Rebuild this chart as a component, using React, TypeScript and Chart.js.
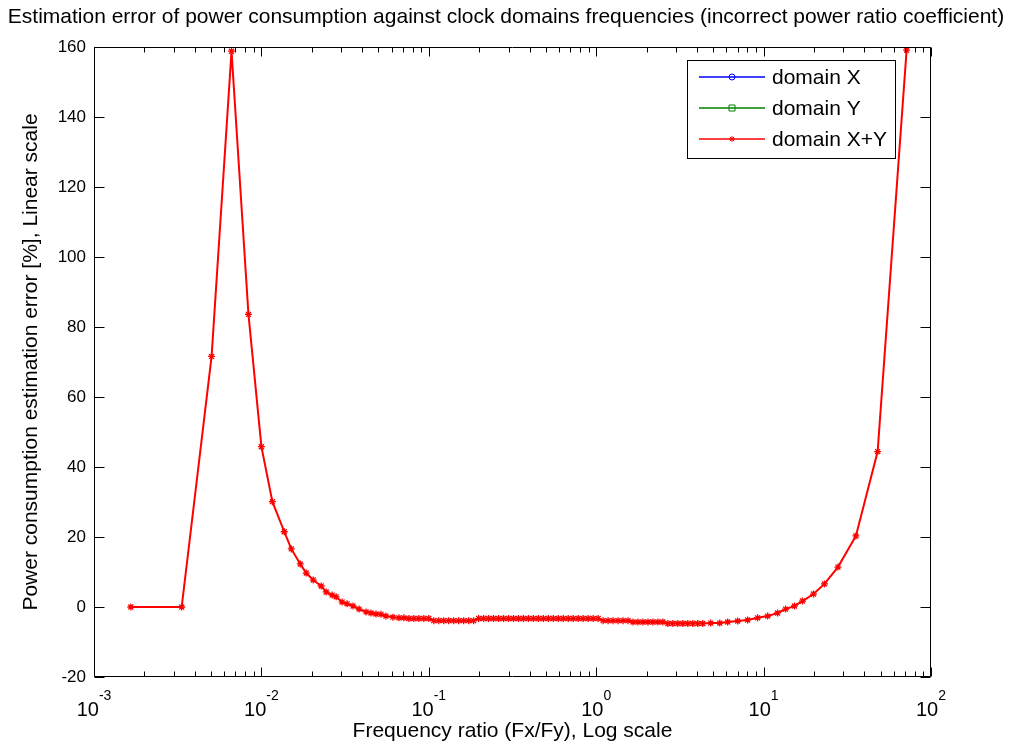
import { useEffect, useRef } from 'react';
import { Chart, registerables } from 'chart.js';

Chart.register(...registerables);

const chartTitle =
  'Estimation error of power consumption against clock domains frequencies (incorrect power ratio coefficient)';
const xAxisLabel = 'Frequency ratio (Fx/Fy), Log scale';
const yAxisLabel = 'Power consumption estimation error [%], Linear scale';
const seriesLabels = ['domain X', 'domain Y', 'domain X+Y'];
const seriesColors = ['#0000ff', '#008000', '#ff0000'];
const yTickValues = [-20, 0, 20, 40, 60, 80, 100, 120, 140, 160];
const xDecades = [-3, -2, -1, 0, 1, 2];

// domain X and domain Y are fully hidden behind domain X+Y in the reference
const ratioX: number[] = [];
const errorX: number[] = [];
const ratioY: number[] = [];
const errorY: number[] = [];

const ratioXY = [
  0.00166, 0.00334, 0.00504, 0.00663, 0.00837, 0.01, 0.01163, 0.0137, 0.01509, 0.01707,
  0.01853, 0.0204, 0.02276, 0.02437, 0.02646, 0.02796, 0.03034, 0.0325, 0.03527, 0.03832,
  0.04217, 0.04516, 0.04836, 0.0518, 0.05546, 0.06105,
  0.0663, 0.071, 0.07603, 0.08142, 0.0872, 0.09337, 0.1,
  0.1071, 0.1147, 0.1228, 0.1315, 0.1408, 0.1508, 0.1615, 0.173, 0.1853,
  0.1984, 0.2125, 0.2276, 0.2437, 0.261, 0.2795, 0.2993, 0.3205, 0.3432, 0.3676, 0.3936,
  0.4215, 0.4514, 0.4834, 0.5177, 0.5544, 0.5937, 0.6358, 0.6809, 0.7292, 0.7809, 0.8362,
  0.8955, 0.959, 1.027,
  1.1, 1.178, 1.261, 1.351, 1.447, 1.549,
  1.659, 1.777, 1.903, 2.038, 2.182, 2.337, 2.503,
  2.68, 2.87, 3.074, 3.292, 3.525, 3.775, 4.043, 4.33,
  4.83, 5.47, 6.1, 7.0, 8.03, 9.21, 10.57, 12.12, 13.53, 15.3, 17.07, 19.86, 23.1, 27.8,
  35.6, 48.0, 71.5,
];

const errorXY = [
  0, 0, 71.6, 158.8, 83.6, 45.8, 30.1, 21.5, 16.6, 12.3,
  9.7, 7.7, 6.0, 4.3, 3.4, 2.9, 1.4, 0.9, 0.3, -0.6,
  -1.4, -1.7, -2.0, -2.1, -2.6, -2.9,
  -3.1, -3.1, -3.3, -3.3, -3.3, -3.3, -3.3,
  -3.9, -3.9, -3.9, -3.9, -3.9, -3.9, -3.9, -3.9, -3.9,
  -3.3, -3.3, -3.3, -3.3, -3.3, -3.3, -3.3, -3.3, -3.3, -3.3, -3.3,
  -3.3, -3.3, -3.3, -3.3, -3.3, -3.3, -3.3, -3.3, -3.3, -3.3, -3.3,
  -3.3, -3.3, -3.3,
  -3.9, -3.9, -3.9, -3.9, -3.9, -3.9,
  -4.3, -4.3, -4.3, -4.3, -4.3, -4.3, -4.3,
  -4.7, -4.7, -4.7, -4.7, -4.7, -4.7, -4.7, -4.7,
  -4.6, -4.6, -4.3, -4.0, -3.7, -3.1, -2.6, -1.7, -0.6, 0.3, 1.7, 3.7, 6.6, 11.4,
  20.3, 44.4, 159.1,
];

const FONT = '"Liberation Sans", Arial, sans-serif';

function toPoints(xs: number[], ys: number[]) {
  return xs.map((x, i) => ({ x, y: ys[i] }));
}

function drawMarker(ctx: CanvasRenderingContext2D, style: string, x: number, y: number, r: number) {
  ctx.beginPath();
  if (style === 'circle') {
    ctx.arc(x, y, r, 0, Math.PI * 2);
  } else if (style === 'rect') {
    ctx.rect(x - r, y - r, 2 * r, 2 * r);
  } else {
    ctx.moveTo(x - r, y);
    ctx.lineTo(x + r, y);
    ctx.moveTo(x, y - r);
    ctx.lineTo(x, y + r);
    const d = r * 0.7;
    ctx.moveTo(x - d, y - d);
    ctx.lineTo(x + d, y + d);
    ctx.moveTo(x - d, y + d);
    ctx.lineTo(x + d, y - d);
  }
  ctx.stroke();
}

const framePlugin = {
  id: 'matlabFrame',
  afterDraw(chart: any) {
    const { ctx, chartArea: a, scales, width } = chart;
    const xs = scales.x;
    const ys = scales.y;
    ctx.save();

    // title
    ctx.fillStyle = '#000';
    ctx.font = `21px ${FONT}`;
    ctx.textAlign = 'center';
    ctx.textBaseline = 'middle';
    ctx.fillText(chartTitle, width / 2, 17, 1002);

    ctx.strokeStyle = '#000';
    ctx.lineWidth = 1;
    const L = Math.round(a.left) + 0.5;
    const R = Math.round(a.right) - 0.5;
    const T = Math.round(a.top) + 0.5;
    const B = Math.round(a.bottom) - 0.5;
    ctx.beginPath();
    ctx.rect(L, T, R - L, B - T);
    ctx.stroke();

    // y ticks (inward, both sides)
    ctx.beginPath();
    for (const v of yTickValues) {
      const py = Math.round(ys.getPixelForValue(v)) + 0.5;
      ctx.moveTo(L, py);
      ctx.lineTo(L + 10, py);
      ctx.moveTo(R, py);
      ctx.lineTo(R - 10, py);
    }
    // x ticks major + minor (inward, top and bottom)
    for (const k of xDecades) {
      const maxM = k === xDecades[xDecades.length - 1] ? 1 : 9;
      for (let m = 1; m <= maxM; m++) {
        const px = Math.round(xs.getPixelForValue(m * Math.pow(10, k))) + 0.5;
        const len = m === 1 ? 9 : 5;
        ctx.moveTo(px, B);
        ctx.lineTo(px, B - len);
        ctx.moveTo(px, T);
        ctx.lineTo(px, T + len);
      }
    }
    ctx.stroke();

    // x tick labels with superscript exponents
    ctx.fillStyle = '#000';
    ctx.textBaseline = 'alphabetic';
    ctx.textAlign = 'left';
    for (const k of xDecades) {
      const px = xs.getPixelForValue(Math.pow(10, k));
      ctx.font = `20px ${FONT}`;
      const base = '10';
      const wb = ctx.measureText(base).width;
      ctx.font = `14px ${FONT}`;
      const exp = String(k);
      const we = ctx.measureText(exp).width;
      const x0 = px - (wb + we) / 2;
      ctx.font = `20px ${FONT}`;
      ctx.fillText(base, x0, 716);
      ctx.font = `14px ${FONT}`;
      ctx.fillText(exp, x0 + wb, 700);
    }

    // legend box
    const bw = 208;
    const bh = 98;
    const bx = a.right - 36 - bw;
    const by = a.top + 13;
    ctx.fillStyle = '#fff';
    ctx.fillRect(bx, by, bw, bh);
    ctx.strokeStyle = '#000';
    ctx.strokeRect(Math.round(bx) + 0.5, Math.round(by) + 0.5, bw, bh);
    const styles = ['circle', 'rect', 'star'];
    chart.data.datasets.forEach((ds: any, i: number) => {
      const ly = by + 17 + i * 31;
      ctx.strokeStyle = ds.borderColor;
      ctx.lineWidth = 1.5;
      ctx.beginPath();
      ctx.moveTo(bx + 12, ly);
      ctx.lineTo(bx + 78, ly);
      ctx.stroke();
      ctx.lineWidth = 1;
      drawMarker(ctx, styles[i], bx + 45, ly, 3);
      ctx.fillStyle = '#000';
      ctx.font = `21px ${FONT}`;
      ctx.textAlign = 'left';
      ctx.textBaseline = 'middle';
      ctx.fillText(ds.label, bx + 85, ly + 1);
    });
    ctx.restore();
  },
};

export default function App() {
  const ref = useRef<HTMLCanvasElement | null>(null);
  useEffect(() => {
    if (!ref.current) return;
    const mk = (i: number, xs: number[], ys: number[], pointStyle: string) => ({
      label: seriesLabels[i],
      data: toPoints(xs, ys),
      borderColor: seriesColors[i],
      backgroundColor: seriesColors[i],
      borderWidth: 2,
      pointStyle,
      pointRadius: 3.5,
      pointBorderWidth: 1.3,
      pointBackgroundColor: 'transparent',
      pointBorderColor: seriesColors[i],
      tension: 0,
      fill: false,
    });
    const chart = new Chart(ref.current, {
      type: 'line',
      data: {
        datasets: [
          mk(0, ratioX, errorX, 'circle'),
          mk(1, ratioY, errorY, 'rect'),
          mk(2, ratioXY, errorXY, 'star'),
        ],
      },
      options: {
        animation: false,
        responsive: true,
        maintainAspectRatio: false,
        layout: { padding: { left: 0, right: 81, top: 47, bottom: 0 } },
        plugins: {
          legend: { display: false },
          tooltip: { enabled: false },
          title: { display: false },
        },
        scales: {
          x: {
            type: 'logarithmic',
            min: 0.001,
            max: 100,
            grid: { display: false, drawTicks: false },
            border: { display: false },
            ticks: { display: false },
            title: {
              display: true,
              text: xAxisLabel,
              color: '#000',
              font: { family: FONT, size: 21 },
              padding: { top: 0, bottom: 0 },
            },
            afterFit: (s: any) => {
              s.height = 67;
            },
          },
          y: {
            type: 'linear',
            min: -20,
            max: 160,
            grid: { display: false, drawTicks: false },
            border: { display: false },
            afterBuildTicks: (s: any) => {
              s.ticks = yTickValues.map((v) => ({ value: v }));
            },
            ticks: {
              color: '#000',
              padding: 8,
              font: { family: FONT, size: 17 },
            },
            title: {
              display: true,
              text: yAxisLabel,
              color: '#000',
              font: { family: FONT, size: 21 },
              padding: { top: 19, bottom: 0 },
            },
            afterFit: (s: any) => {
              s.width = 94;
            },
          },
        },
      },
      plugins: [framePlugin],
    } as any);
    return () => chart.destroy();
  }, []);
  return (
    <div style={{ position: 'absolute', left: 0, top: 0, width: 1012, height: 744, background: '#fff' }}>
      <canvas ref={ref} />
    </div>
  );
}
